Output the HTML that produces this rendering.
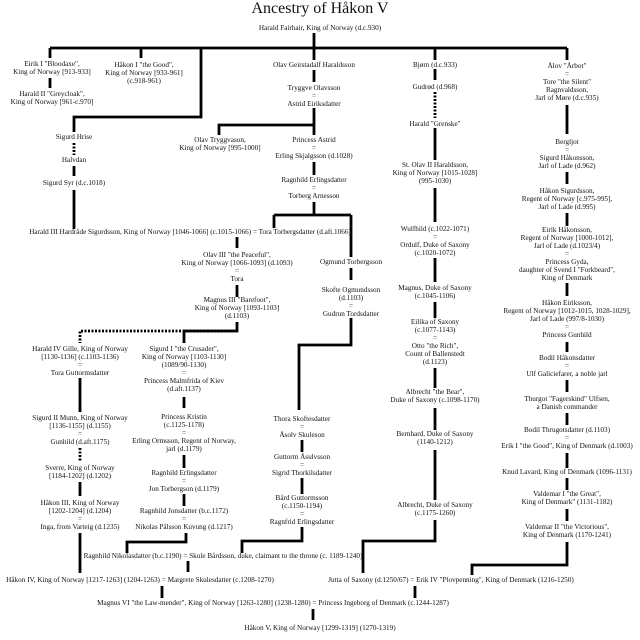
<!DOCTYPE html>
<html><head><meta charset="utf-8"><style>
html,body{margin:0;padding:0;background:#fff;}
#c{position:relative;width:640px;height:640px;overflow:hidden;font-family:"Liberation Serif",serif;color:#111;}
.t{position:absolute;transform:translateX(-50%);text-align:center;white-space:nowrap;line-height:8px;font-size:7.2px;}
svg{position:absolute;left:0;top:0;}
</style></head><body><div id="c">
<svg width="640" height="640" fill="none" stroke="#000" stroke-width="2.8">
<path d="M314 33V48M50 48H567M50 48V58M141 48V58M201 48V117H74V132M314 48V60M435 48V60M567 48V60"/>
<path d="M50 78V88M314 70V82M314 108V125H219V135M314 125V135M314 162V175"/>
<path d="M74 166V176M74 190V229"/>
<path d="M314 202V215M274 215H351M274 215V228M351 215V257M351 268V280M351 318V345H299V410"/>
<path d="M237 237V248M237 285V297M237 322V331H184V343"/>
<path d="M80 378V412M184 397V408M184 455V468M184 494V506M80 482V496M80 533V573"/>
<path d="M302 440V452M302 478V494M302 527V541H242V553M186 533V542H127V553M188 561V572M162 586V598M313 609V620"/>
<path d="M435 69V80M435 128V160M435 188V222M435 258V282M435 302V318M435 368V388M435 408V430M435 450V500M435 520V541H363V573M415 586V598"/>
<path d="M567 105V134M567 172V184M567 213V226M567 283V296M567 342V352M567 380V392M567 413V425M567 453V468M567 478V490M567 509V521M567 542V565H472V575"/>
<path stroke-dasharray="2,1.5" d="M74 143V155M435 92V118M237 331H80V343M80 448V462"/>
</svg>
<div class="t" style="left:320px;top:0px;font-size:16px;line-height:18px">Ancestry of Håkon V</div>
<div class="t" style="left:320px;top:24px">Harald Fairhair, King of Norway (d.c.930)</div>
<div class="t" style="left:52px;top:60px">Eirik I "Bloodaxe",<br>King of Norway [913-933]</div>
<div class="t" style="left:52px;top:90px">Harald II "Greycloak",<br>King of Norway [961-c.970]</div>
<div class="t" style="left:144px;top:61px">Håkon I "the Good",<br>King of Norway [933-961]<br>(c.918-961)</div>
<div class="t" style="left:314px;top:61px">Olav Geirstadalf Haraldsson</div>
<div class="t" style="left:314px;top:84px">Tryggve Olavsson<br>=<br>Astrid Eiriksdatter</div>
<div class="t" style="left:220px;top:136px">Olav Tryggvason,<br>King of Norway [995-1000]</div>
<div class="t" style="left:314px;top:136px">Princess Astrid<br>=<br>Erling Skjalgsson (d.1028)</div>
<div class="t" style="left:314px;top:176px">Ragnhild Erlingsdatter<br>=<br>Torberg Arnesson</div>
<div class="t" style="left:74px;top:133px">Sigurd Hrise</div>
<div class="t" style="left:74px;top:156px">Halvdan</div>
<div class="t" style="left:74px;top:179px">Sigurd Syr (d.c.1018)</div>
<div class="t" style="left:190px;top:228px">Harald III Hardråde Sigurdsson, King of Norway [1046-1066] (c.1015-1066) = Tora Torbergsdatter (d.aft.1066)</div>
<div class="t" style="left:351px;top:258px">Ogmund Torbergsson</div>
<div class="t" style="left:351px;top:286px">Skofte Ogmundsson<br>(d.1103)<br>=<br>Gudrun Tordsdatter</div>
<div class="t" style="left:237px;top:251px">Olav III "the Peaceful",<br>King of Norway [1066-1093] (d.1093)<br>=<br>Tora</div>
<div class="t" style="left:237px;top:296px">Magnus III "Barefoot",<br>King of Norway [1093-1103]<br>(d.1103)</div>
<div class="t" style="left:80px;top:345px">Harald IV Gille, King of Norway<br>[1130-1136] (c.1103-1136)<br>=<br>Tora Guttormsdatter</div>
<div class="t" style="left:184px;top:345px">Sigurd I "the Crusader",<br>King of Norway [1103-1130]<br>(1089/90-1130)<br>=<br>Princess Malmfrida of Kiev<br>(d.aft.1137)</div>
<div class="t" style="left:184px;top:413px">Princess Kristin<br>(c.1125-1178)<br>=<br>Erling Ormsson, Regent of Norway,<br>jarl (d.1179)</div>
<div class="t" style="left:184px;top:469px">Ragnhild Erlingsdatter<br>=<br>Jon Torbergson (d.1179)</div>
<div class="t" style="left:184px;top:507px">Ragnhild Jonsdatter (b.c.1172)<br>=<br>Nikolas Pålsson Kuvung (d.1217)</div>
<div class="t" style="left:80px;top:414px">Sigurd II Munn, King of Norway<br>[1136-1155] (d.1155)<br>=<br>Gunhild (d.aft.1175)</div>
<div class="t" style="left:80px;top:464px">Sverre, King of Norway<br>[1184-1202] (d.1202)</div>
<div class="t" style="left:80px;top:499px">Håkon III, King of Norway<br>[1202-1204] (d.1204)<br>=<br>Inga, from Varteig (d.1235)</div>
<div class="t" style="left:302px;top:415px">Thora Skoftesdatter<br>=<br>Åsolv Skuleson</div>
<div class="t" style="left:302px;top:453px">Guttorm Åsulvsson<br>=<br>Sigrid Thorkilsdatter</div>
<div class="t" style="left:302px;top:494px">Bård Guttormsson<br>(c.1150-1194)<br>=<br>Ragnfrid Erlingsdatter</div>
<div class="t" style="left:223px;top:552px">Ragnhild Nikolasdatter (b.c.1190) = Skule Bårdsson, duke, claimant to the throne (c. 1189-1240)</div>
<div class="t" style="left:140px;top:576px">Håkon IV, King of Norway [1217-1263] (1204-1263) = Margrete Skulesdatter (c.1208-1270)</div>
<div class="t" style="left:451px;top:576px">Jutta of Saxony (d.1250/67) = Erik IV "Plovpenning", King of Denmark (1216-1250)</div>
<div class="t" style="left:273px;top:599px">Magnus VI "the Law-mender", King of Norway [1263-1280] (1238-1280) = Princess Ingeborg of Denmark (c.1244-1287)</div>
<div class="t" style="left:320px;top:624px">Håkon V, King of Norway [1299-1319] (1270-1319)</div>
<div class="t" style="left:435px;top:61px">Bjørn (d.c.933)</div>
<div class="t" style="left:435px;top:83px">Gudrød (d.968)</div>
<div class="t" style="left:435px;top:120px">Harald "Grenske"</div>
<div class="t" style="left:435px;top:161px">St. Olav II Haraldsson,<br>King of Norway [1015-1028]<br>(995-1030)</div>
<div class="t" style="left:435px;top:225px">Wulfhild (c.1022-1071)<br>=<br>Ordulf, Duke of Saxony<br>(c.1020-1072)</div>
<div class="t" style="left:435px;top:284px">Magnus, Duke of Saxony<br>(c.1045-1106)</div>
<div class="t" style="left:435px;top:318px">Eilika of Saxony<br>(c.1077-1143)<br>=<br>Otto "the Rich",<br>Count of Ballenstedt<br>(d.1123)</div>
<div class="t" style="left:435px;top:388px">Albrecht "the Bear",<br>Duke of Saxony (c.1098-1170)</div>
<div class="t" style="left:435px;top:430px">Bernhard, Duke of Saxony<br>(1140-1212)</div>
<div class="t" style="left:435px;top:501px">Albrecht, Duke of Saxony<br>(c.1175-1260)</div>
<div class="t" style="left:567px;top:62px">Ålov "Årbot"<br>=<br>Tore "the Silent"<br>Ragnvaldsson,<br>Jarl of Møre (d.c.935)</div>
<div class="t" style="left:567px;top:138px">Bergljot<br>=<br>Sigurd Håkonsson,<br>Jarl of Lade (d.962)</div>
<div class="t" style="left:567px;top:187px">Håkon Sigurdsson,<br>Regent of Norway [c.975-995],<br>Jarl of Lade (d.995)</div>
<div class="t" style="left:567px;top:226px">Eirik Håkonsson,<br>Regent of Norway [1000-1012],<br>Jarl of Lade (d.1023/4)<br>=<br>Princess Gyda,<br>daughter of Svend I "Forkbeard",<br>King of Denmark</div>
<div class="t" style="left:567px;top:299px">Håkon Eiriksson,<br>Regent of Norway [1012-1015, 1028-1029],<br>Jarl of Lade (997/8-1030)<br>=<br>Princess Gunhild</div>
<div class="t" style="left:567px;top:354px">Bodil Håkonsdatter<br>=<br>Ulf Galiciefarer, a noble jarl</div>
<div class="t" style="left:567px;top:395px">Thurgot "Fagerskind" Ulfsen,<br>a Danish commander</div>
<div class="t" style="left:567px;top:426px">Bodil Thrugotsdatter (d.1103)<br>=<br>Erik I "the Good", King of Denmark (d.1003)</div>
<div class="t" style="left:567px;top:468px">Knud Lavard, King of Denmark (1096-1131)</div>
<div class="t" style="left:567px;top:490px">Valdemar I "the Great",<br>King of Denmark" (1131-1182)</div>
<div class="t" style="left:567px;top:523px">Valdemar II "the Victorious",<br>King of Denmark (1170-1241)</div>
</div></body></html>
